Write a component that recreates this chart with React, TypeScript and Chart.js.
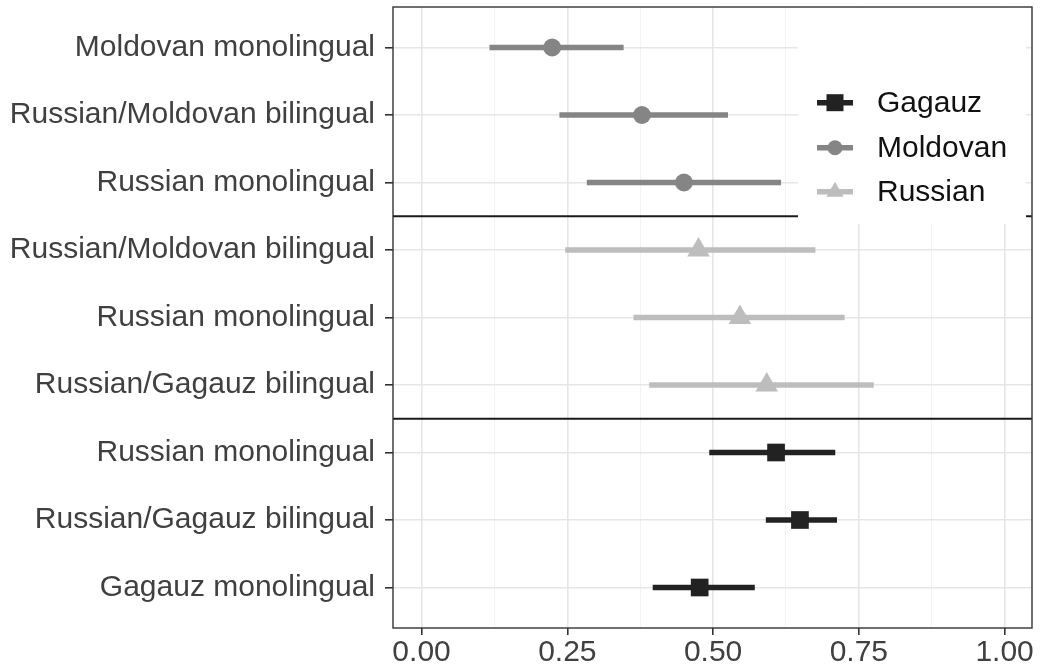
import React, { useEffect, useRef } from 'react';
import { Chart, registerables } from 'chart.js';

Chart.register(...registerables);

// ---- data ----
const rowLabels = [
  'Moldovan monolingual',
  'Russian/Moldovan bilingual',
  'Russian monolingual',
  'Russian/Moldovan bilingual',
  'Russian monolingual',
  'Russian/Gagauz bilingual',
  'Russian monolingual',
  'Russian/Gagauz bilingual',
  'Gagauz monolingual',
];

const groupNames = ['Gagauz', 'Moldovan', 'Russian'];

const moldovanRows = [1, 2, 3];
const moldovanEst = [0.224, 0.378, 0.45];
const moldovanLo = [0.117, 0.237, 0.284];
const moldovanHi = [0.346, 0.525, 0.616];

const russianRows = [4, 5, 6];
const russianEst = [0.475, 0.546, 0.592];
const russianLo = [0.247, 0.364, 0.391];
const russianHi = [0.675, 0.725, 0.775];

const gagauzRows = [7, 8, 9];
const gagauzEst = [0.608, 0.649, 0.477];
const gagauzLo = [0.494, 0.591, 0.397];
const gagauzHi = [0.709, 0.712, 0.571];

const separators = [3.5, 6.5];
const xTicks = [0, 0.125, 0.25, 0.375, 0.5, 0.625, 0.75, 0.875, 1];
const yTicks = [1, 2, 3, 4, 5, 6, 7, 8, 9];

// ---- style ----
const FONT = "'Liberation Sans', Arial, Helvetica, sans-serif";
const colors: Record<string, string> = {
  Gagauz: '#222222',
  Moldovan: '#858585',
  Russian: '#bdbdbd',
};
const styles: Record<string, string> = {
  Gagauz: 'rect',
  Moldovan: 'circle',
  Russian: 'triangle',
};
const radii: Record<string, number> = {
  Gagauz: 12.5,
  Moldovan: 9,
  Russian: 13,
};

const isMajor = (v: number) => Math.abs(v * 4 - Math.round(v * 4)) < 1e-6;

function drawMarker(ctx: CanvasRenderingContext2D, style: string, x: number, y: number, r: number, color: string) {
  ctx.fillStyle = color;
  ctx.beginPath();
  if (style === 'circle') {
    ctx.arc(x, y, r, 0, Math.PI * 2);
  } else if (style === 'rect') {
    ctx.rect(x - r, y - r, 2 * r, 2 * r);
  } else {
    const h = r * 1.5;
    const half = (r * Math.sqrt(3)) / 2;
    ctx.moveTo(x, y - r);
    ctx.lineTo(x + half, y - r + h);
    ctx.lineTo(x - half, y - r + h);
    ctx.closePath();
  }
  ctx.fill();
}

const decorPlugin = {
  id: 'decor',
  beforeDatasetsDraw(chart: any) {
    const { ctx, chartArea, scales } = chart;
    ctx.save();
    ctx.strokeStyle = '#1a1a1a';
    ctx.lineWidth = 1.8;
    separators.forEach((s) => {
      const py = scales.y.getPixelForValue(s);
      ctx.beginPath();
      ctx.moveTo(chartArea.left, py);
      ctx.lineTo(chartArea.right, py);
      ctx.stroke();
    });
    ctx.restore();
  },
  afterDatasetsDraw(chart: any) {
    const { ctx, chartArea } = chart;
    ctx.save();
    // legend background
    ctx.fillStyle = '#ffffff';
    ctx.fillRect(798, chartArea.top + 1, 228, 216);
    const keyY = [102.7, 147.7, 191.7];
    const legendSizes: Record<string, number> = { Gagauz: 8.5, Moldovan: 7.5, Russian: 10 };
    groupNames.forEach((g, i) => {
      const y = keyY[i];
      ctx.strokeStyle = colors[g];
      ctx.lineWidth = 5.5;
      ctx.beginPath();
      ctx.moveTo(817, y);
      ctx.lineTo(853, y);
      ctx.stroke();
      drawMarker(ctx, styles[g], 835, y, legendSizes[g], colors[g]);
      ctx.fillStyle = '#111111';
      ctx.font = `30px ${FONT}`;
      ctx.textBaseline = 'middle';
      ctx.textAlign = 'left';
      ctx.fillText(g, 877, y + 1);
    });
    // panel border
    ctx.strokeStyle = '#333333';
    ctx.lineWidth = 1.4;
    ctx.strokeRect(chartArea.left, chartArea.top, chartArea.right - chartArea.left, chartArea.bottom - chartArea.top);
    ctx.restore();
  },
};

function buildBars(name: string, rows: number[], lo: number[], hi: number[]) {
  return {
    type: 'bar',
    label: name + ' CI',
    indexAxis: 'y',
    data: rows.map((r, i) => ({ x: [lo[i], hi[i]], y: r })),
    backgroundColor: colors[name],
    borderWidth: 0,
    barThickness: 5,
    grouped: false,
    order: 2,
  };
}

function buildPoints(name: string, rows: number[], est: number[]) {
  return {
    type: 'scatter',
    label: name,
    data: rows.map((r, i) => ({ x: est[i], y: r })),
    backgroundColor: colors[name],
    borderColor: colors[name],
    borderWidth: 0,
    pointStyle: styles[name],
    pointRadius: radii[name],
    pointHoverRadius: radii[name],
    order: 1,
  };
}

export default function App() {
  const ref = useRef<HTMLCanvasElement | null>(null);
  useEffect(() => {
    if (!ref.current) return;
    const chart = new Chart(ref.current, {
      type: 'scatter',
      data: {
        datasets: [
          buildBars('Moldovan', moldovanRows, moldovanLo, moldovanHi),
          buildBars('Russian', russianRows, russianLo, russianHi),
          buildBars('Gagauz', gagauzRows, gagauzLo, gagauzHi),
          buildPoints('Moldovan', moldovanRows, moldovanEst),
          buildPoints('Russian', russianRows, russianEst),
          buildPoints('Gagauz', gagauzRows, gagauzEst),
        ] as any,
      },
      options: {
        responsive: false,
        animation: false,
        events: [],
        layout: { autoPadding: false, padding: { top: 7, right: 8, left: 0, bottom: 0 } },
        plugins: { legend: { display: false }, tooltip: { enabled: false } },
        scales: {
          x: {
            type: 'linear',
            min: -0.049,
            max: 1.047,
            offset: false,
            afterBuildTicks: (s: any) => {
              s.ticks = xTicks.map((v) => ({ value: v }));
            },
            afterFit: (s: any) => {
              s.height = 42;
              s.paddingLeft = 0;
              s.paddingRight = 0;
              s.paddingTop = 0;
              s.paddingBottom = 0;
            },
            border: { display: false },
            grid: {
              offset: false,
              color: (c: any) => (isMajor(c.tick?.value ?? 0) ? '#e6e6e6' : '#f2f2f2'),
              lineWidth: (c: any) => (isMajor(c.tick?.value ?? 0) ? 1.6 : 0.9),
              tickColor: (c: any) => (isMajor(c.tick?.value ?? 0) ? '#333333' : 'rgba(0,0,0,0)'),
              tickLength: 7,
              tickWidth: 1.6,
              drawTicks: true,
            },
            ticks: {
              autoSkip: false,
              maxRotation: 0,
              padding: 3,
              color: '#404040',
              font: { family: FONT, size: 30, lineHeight: 1 },
              callback: (v: any) => (isMajor(Number(v)) ? Number(v).toFixed(2) : ''),
            },
          },
          y: {
            type: 'linear',
            reverse: true,
            min: 0.4,
            max: 9.6,
            offset: false,
            afterBuildTicks: (s: any) => {
              s.ticks = yTicks.map((v) => ({ value: v }));
            },
            afterFit: (s: any) => {
              s.width = 393;
              s.paddingLeft = 0;
              s.paddingRight = 0;
              s.paddingTop = 0;
              s.paddingBottom = 0;
            },
            border: { display: false },
            grid: {
              offset: false,
              color: '#e6e6e6',
              lineWidth: 1.6,
              tickColor: '#333333',
              tickLength: 8,
              tickWidth: 1.6,
              drawTicks: true,
            },
            ticks: {
              autoSkip: false,
              padding: 10,
              color: '#404040',
              font: { family: FONT, size: 30 },
              callback: (v: any) => rowLabels[Math.round(Number(v)) - 1] ?? '',
            },
          },
        },
      } as any,
      plugins: [decorPlugin],
    });
    return () => chart.destroy();
  }, []);

  return (
    <div style={{ position: 'absolute', left: 0, top: 0, width: 1040, height: 670, background: '#fff' }}>
      <canvas ref={ref} width={1040} height={670} />
    </div>
  );
}
